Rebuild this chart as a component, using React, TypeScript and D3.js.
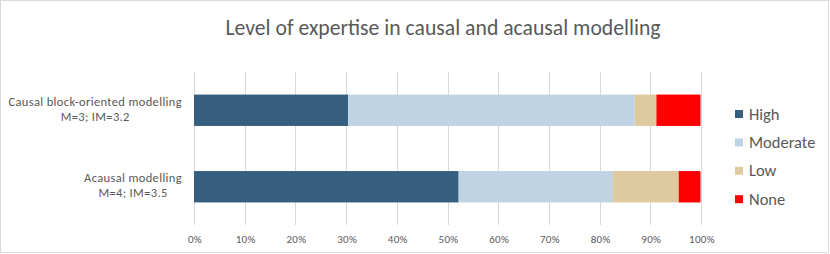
import React, { useEffect, useRef } from 'react';
import * as d3 from 'd3';

const title = 'Level of expertise in causal and acausal modelling';
const categories = ['Causal block-oriented modelling|M=3; IM=3.2', 'Acausal modelling|M=4; IM=3.5'];
const levels = ['High', 'Moderate', 'Low', 'None'];
const colors = ['#365e7e', '#c0d3e4', '#dfca9f', '#ff0000'];
// share of respondents (%) per level, per category
const high = [30.4, 52.2];
const moderate = [56.5, 30.4];
const low = [4.3, 13.0];
const none = [8.7, 4.3];
const ticks = [0, 10, 20, 30, 40, 50, 60, 70, 80, 90, 100];

const FONT = 'Calibri, Carlito, Lato, sans-serif';

const App: React.FC = () => {
  const svgRef = useRef<SVGSVGElement | null>(null);
  const width = 830;
  const height = 254;

  useEffect(() => {
    if (!svgRef.current) return;
    const svg = d3.select(svgRef.current);
    svg.selectAll('*').remove();

    const margin = { top: 72, right: 128, bottom: 29, left: 194 };

    svg
      .append('rect')
      .attr('x', 0.5)
      .attr('y', 0.5)
      .attr('width', width - 2)
      .attr('height', height - 2)
      .attr('fill', 'white')
      .attr('stroke', '#d9d9d9');

    const x = d3.scaleLinear().domain([0, 100]).range([margin.left, 701]);
    const y = d3
      .scaleBand<string>()
      .domain(categories)
      .range([margin.top, height - margin.bottom])
      .paddingInner(0.59)
      .paddingOuter(0.295);

    // grid lines
    svg
      .append('g')
      .selectAll('line')
      .data(ticks)
      .join('line')
      .attr('x1', (d) => Math.round(x(d)) + 0.5)
      .attr('x2', (d) => Math.round(x(d)) + 0.5)
      .attr('y1', margin.top)
      .attr('y2', height - margin.bottom)
      .attr('stroke', '#d9d9d9')
      .attr('stroke-width', 1);

    // tick labels
    svg
      .append('g')
      .selectAll('text')
      .data(ticks)
      .join('text')
      .attr('x', (d) => x(d) + 1)
      .attr('y', 243)
      .attr('text-anchor', 'middle')
      .style('font-family', FONT)
      .style('font-size', '11px')
      .style('letter-spacing', '0.3px')
      .style('fill', '#595959')
      .text((d) => `${d}%`);

    // stacked bars
    const rows = categories.map((c, i) => ({ cat: c, values: [high[i], moderate[i], low[i], none[i]] }));
    rows.forEach((row) => {
      let acc = 0;
      row.values.forEach((v, k) => {
        svg
          .append('rect')
          .attr('x', x(acc))
          .attr('y', y(row.cat)!)
          .attr('width', x(acc + v) - x(acc))
          .attr('height', y.bandwidth())
          .attr('fill', colors[k]);
        acc += v;
      });
    });

    // category labels: lines centred to each other, block right-aligned
    categories.forEach((c) => {
      const lines = c.split('|');
      const g = svg.append('g');
      const texts = lines.map((l, i) =>
        g
          .append('text')
          .attr('y', y(c)! + y.bandwidth() / 2 + 3 + (i - 0.5) * 15)
          .attr('text-anchor', 'middle')
          .style('font-family', FONT)
          .style('font-size', '12.5px')
          .style('letter-spacing', '0.35px')
          .style('fill', '#595959')
          .text(l)
      );
      const widest = d3.max(texts, (t) => (t.node() as SVGTextElement).getComputedTextLength()) || 0;
      texts.forEach((t) => t.attr('x', 182 - widest / 2));
    });

    // legend
    const legend = svg.append('g');
    levels.forEach((l, i) => {
      const cy = 114 + i * 28.4;
      legend
        .append('rect')
        .attr('x', 735)
        .attr('y', cy - 4)
        .attr('width', 8)
        .attr('height', 8)
        .attr('fill', colors[i]);
      legend
        .append('text')
        .attr('x', 749)
        .attr('y', cy + 5.5)
        .style('font-family', FONT)
        .style('font-size', '16.5px')
        .style('fill', '#595959')
        .text(l);
    });

    // title
    svg
      .append('text')
      .attr('x', 443)
      .attr('y', 35)
      .attr('text-anchor', 'middle')
      .style('font-family', FONT)
      .style('font-size', '21.7px')
      .style('fill', '#595959')
      .text(title);
  }, []);

  return (
    <svg
      ref={svgRef}
      width={width}
      height={height}
      style={{ position: 'absolute', left: 0, top: 0, display: 'block' }}
    ></svg>
  );
};

export default App;
